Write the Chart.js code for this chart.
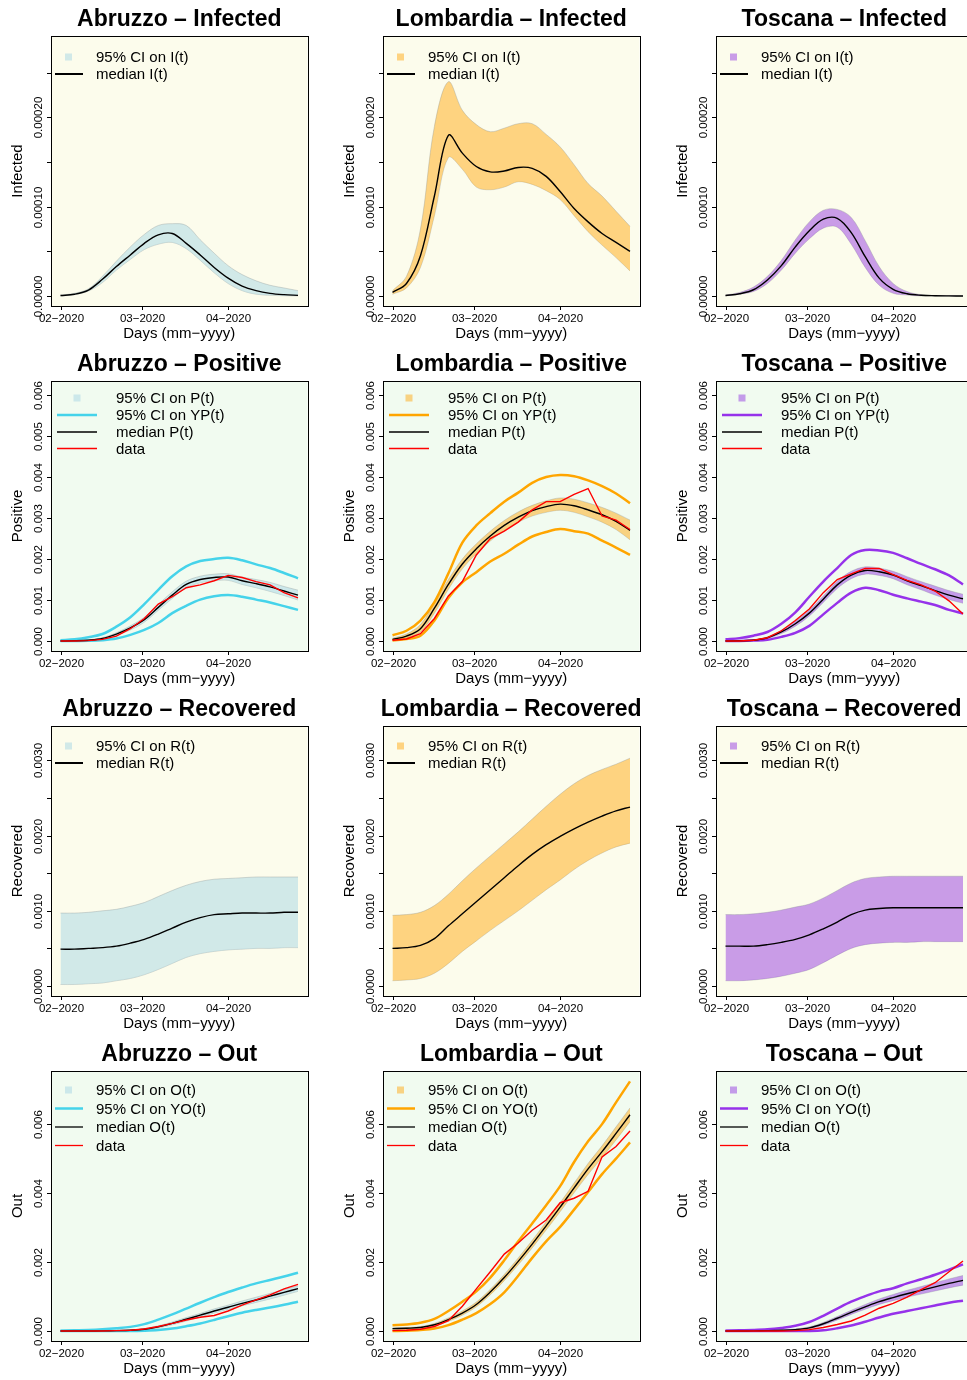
<!DOCTYPE html>
<html>
<head>
<meta charset="utf-8">
<script src="https://cdn.jsdelivr.net/npm/chart.js@4.4.1/dist/chart.umd.min.js"></script>
<style>
  html, body { margin: 0; padding: 0; background: #fff; overflow: hidden; }
  #grid { position: relative; width: 997px; height: 1380px; }
  #grid canvas { position: absolute; }
</style>
</head>
<body>
<div id="grid"></div>
<script>
// ---- time axis (days since 1 Feb 2020) ----
const DAYS = [0, 5, 10, 15, 20, 25, 30, 35, 40, 45, 50, 55, 60, 65, 70, 75, 80, 85];
const MONTH_TICKS = [0, 29, 60];
const MONTH_LABELS = ['02\u22122020', '03\u22122020', '04\u22122020'];

const REGIONS = ['Abruzzo', 'Lombardia', 'Toscana'];

// ---- y tick positions / labels per compartment ----
const INF_TICKS = [0, 0.00005, 0.0001, 0.00015, 0.0002, 0.00025];
const INF_TICK_LABELS = ['0.00000', '', '0.00010', '', '0.00020', ''];
const POS_TICKS = [0, 0.001, 0.002, 0.003, 0.004, 0.005, 0.006];
const POS_TICK_LABELS = ['0.000', '0.001', '0.002', '0.003', '0.004', '0.005', '0.006'];
const REC_TICKS = [0, 0.0005, 0.001, 0.0015, 0.002, 0.0025, 0.003];
const REC_TICK_LABELS = ['0.0000', '', '0.0010', '', '0.0020', '', '0.0030'];
const OUT_TICKS = [0, 0.002, 0.004, 0.006];
const OUT_TICK_LABELS = ['0.000', '0.002', '0.004', '0.006'];

const INF_LEGEND = ['95% CI on I(t)', 'median I(t)'];
const POS_LEGEND = ['95% CI on P(t)', '95% CI on YP(t)', 'median P(t)', 'data'];
const REC_LEGEND = ['95% CI on R(t)', 'median R(t)'];
const OUT_LEGEND = ['95% CI on O(t)', '95% CI on YO(t)', 'median O(t)', 'data'];

// ---- Abruzzo ----
const ABR_I_MED = [0.0000005, 0.000002, 0.0000067, 0.0000187, 0.000033, 0.000046, 0.000059, 0.0000685, 0.00007, 0.000059, 0.000046, 0.000032, 0.00002, 0.000011, 0.000006, 0.000003, 0.0000015, 0.0000007];
const ABR_I_HI = [0.000001, 0.000003, 0.000008, 0.000022, 0.000039, 0.000055, 0.000069, 0.000079, 0.000081, 0.000079, 0.000063, 0.000048, 0.000034, 0.000024, 0.000017, 0.000012, 0.000009, 0.000006];
const ABR_I_LO = [0, 0.0000015, 0.0000055, 0.000015, 0.000029, 0.000041, 0.000052, 0.000058, 0.00006, 0.000053, 0.00004, 0.000026, 0.000014, 0.000006, 0.000002, 0.0000008, 0.0000003, 0.0000001];

const ABR_P_MED = [0, 0.000005, 0.00002, 0.00006, 0.00017, 0.00032, 0.00052, 0.00082, 0.00112, 0.00138, 0.0015, 0.00155, 0.00156, 0.00147, 0.0014, 0.00132, 0.00122, 0.00112];
const ABR_P_HI = [0.00001, 0.00001, 0.00003, 0.00008, 0.0002, 0.00037, 0.00058, 0.00089, 0.0012, 0.00146, 0.00158, 0.00163, 0.00164, 0.00156, 0.0015, 0.00143, 0.00133, 0.00124];
const ABR_P_LO = [0, 0, 0.00001, 0.00004, 0.00014, 0.00027, 0.00046, 0.00075, 0.00104, 0.0013, 0.00142, 0.00147, 0.00148, 0.00138, 0.0013, 0.00121, 0.00111, 0.001];
const ABR_YP_HI = [0.00002, 0.00004, 0.00009, 0.00017, 0.00035, 0.00058, 0.0009, 0.00125, 0.00158, 0.00182, 0.00195, 0.002, 0.00203, 0.00197, 0.00187, 0.00178, 0.00166, 0.00153];
const ABR_YP_LO = [0, 0, 0.000005, 0.00002, 0.00006, 0.00015, 0.00027, 0.00044, 0.00068, 0.00086, 0.00101, 0.00109, 0.00112, 0.00108, 0.00101, 0.00094, 0.00085, 0.00076];
const ABR_P_DATA = [0, 0, 0.00001, 0.00004, 0.00012, 0.0003, 0.00055, 0.0009, 0.00108, 0.0013, 0.00137, 0.00147, 0.0016, 0.00155, 0.00145, 0.00137, 0.00118, 0.00105];

const ABR_R_MED = [0.00049, 0.00049, 0.0005, 0.00051, 0.00053, 0.00057, 0.00062, 0.00069, 0.00077, 0.00085, 0.00091, 0.00095, 0.00096, 0.00097, 0.00097, 0.00097, 0.00098, 0.00098];
const ABR_R_HI = [0.00097, 0.00097, 0.00098, 0.001, 0.00102, 0.00106, 0.00111, 0.00119, 0.00127, 0.00134, 0.00139, 0.00142, 0.00143, 0.00144, 0.00145, 0.00145, 0.00145, 0.00145];
const ABR_R_LO = [0.00002, 0.00002, 0.00003, 0.00004, 0.00007, 0.0001, 0.00015, 0.00022, 0.0003, 0.00038, 0.00043, 0.00046, 0.00048, 0.00049, 0.0005, 0.0005, 0.00051, 0.00051];

const ABR_O_MED = [0, 0, 0, 0.000005, 0.00001, 0.00002, 0.00005, 0.00012, 0.00022, 0.00034, 0.00046, 0.00058, 0.00069, 0.0008, 0.0009, 0.00101, 0.00112, 0.00123];
const ABR_O_HI = [0, 0, 0.000005, 0.00001, 0.00002, 0.00003, 0.00007, 0.00015, 0.00026, 0.00039, 0.00051, 0.00064, 0.00075, 0.00087, 0.00098, 0.00109, 0.0012, 0.00131];
const ABR_O_LO = [0, 0, 0, 0, 0.000005, 0.00001, 0.00003, 0.00009, 0.00018, 0.00029, 0.00041, 0.00052, 0.00063, 0.00073, 0.00083, 0.00093, 0.00104, 0.00115];
const ABR_YO_HI = [0.00001, 0.00002, 0.00003, 0.00005, 0.00008, 0.00012, 0.0002, 0.00033, 0.00048, 0.00065, 0.00082, 0.00098, 0.00113, 0.00126, 0.00138, 0.00148, 0.00158, 0.00169];
const ABR_YO_LO = [0, 0, 0, 0, 0, 0, 0.00001, 0.00003, 0.00007, 0.00014, 0.00022, 0.00032, 0.00043, 0.00053, 0.00061, 0.00068, 0.00076, 0.00085];
const ABR_O_DATA = [0, 0, 0, 0, 0.00001, 0.00002, 0.00006, 0.00013, 0.00022, 0.00032, 0.0004, 0.00045, 0.00058, 0.00075, 0.0009, 0.00105, 0.00122, 0.00135];

// ---- Lombardia ----
const LOM_I_MED = [0.000004, 0.000014, 0.000045, 0.000112, 0.00018, 0.00016, 0.000145, 0.000139, 0.00014, 0.000144, 0.000143, 0.000134, 0.000117, 0.000098, 0.000083, 0.00007, 0.00006, 0.00005];
const LOM_I_HI = [0.000006, 0.000022, 0.000075, 0.00019, 0.00024, 0.000208, 0.000192, 0.000184, 0.000188, 0.000193, 0.000193, 0.000181, 0.000167, 0.000147, 0.000126, 0.000112, 0.000095, 0.000078];
const LOM_I_LO = [0.000002, 0.000009, 0.000032, 0.00009, 0.000155, 0.000142, 0.000122, 0.000119, 0.000122, 0.000128, 0.000125, 0.000118, 0.000108, 0.00009, 0.000072, 0.000057, 0.000043, 0.000028];

const LOM_P_MED = [0.00004, 0.00012, 0.0003, 0.0008, 0.00138, 0.00188, 0.00225, 0.00256, 0.00282, 0.00302, 0.00318, 0.00328, 0.00334, 0.0033, 0.0032, 0.00308, 0.00292, 0.0027];
const LOM_P_HI = [0.00007, 0.00017, 0.0004, 0.00092, 0.0015, 0.002, 0.00237, 0.00268, 0.00294, 0.00315, 0.00331, 0.00342, 0.00349, 0.00346, 0.00337, 0.00326, 0.00312, 0.00295];
const LOM_P_LO = [0.00002, 0.00008, 0.00022, 0.00068, 0.00126, 0.00176, 0.00213, 0.00244, 0.0027, 0.0029, 0.00305, 0.00314, 0.00319, 0.00314, 0.00303, 0.0029, 0.00272, 0.00247];
const LOM_YP_HI = [0.00014, 0.00025, 0.0005, 0.00095, 0.00165, 0.0024, 0.00282, 0.00312, 0.0034, 0.00362, 0.00386, 0.004, 0.00405, 0.00402, 0.00392, 0.00378, 0.0036, 0.00336];
const LOM_YP_LO = [0.00001, 0.00005, 0.00013, 0.0005, 0.00105, 0.00143, 0.00168, 0.00194, 0.00213, 0.00235, 0.00255, 0.00266, 0.00273, 0.00268, 0.00262, 0.00245, 0.00228, 0.0021];
const LOM_P_DATA = [0.00002, 0.00005, 0.00018, 0.00055, 0.0011, 0.00145, 0.0021, 0.0025, 0.00268, 0.0029, 0.0032, 0.0034, 0.0034, 0.00358, 0.00372, 0.00305, 0.00295, 0.00272];

const LOM_R_MED = [0.0005, 0.00051, 0.00054, 0.00063, 0.0008, 0.00096, 0.00112, 0.00128, 0.00144, 0.0016, 0.00175, 0.00188, 0.00199, 0.00209, 0.00218, 0.00226, 0.00233, 0.00238];
const LOM_R_HI = [0.00094, 0.00095, 0.00098, 0.00107, 0.00122, 0.0014, 0.00157, 0.00173, 0.00189, 0.00205, 0.00222, 0.00239, 0.00255, 0.00269, 0.0028, 0.00288, 0.00295, 0.00303];
const LOM_R_LO = [0.00007, 0.00008, 0.0001, 0.00017, 0.0003, 0.00046, 0.0006, 0.00074, 0.00087, 0.001, 0.00114, 0.00128, 0.00141, 0.00155, 0.00167, 0.00177, 0.00185, 0.0019];

const LOM_O_MED = [0.00007, 0.00008, 0.0001, 0.00018, 0.00033, 0.00052, 0.00077, 0.00113, 0.00155, 0.00202, 0.00252, 0.00305, 0.00359, 0.00415, 0.0047, 0.0052, 0.00573, 0.00627];
const LOM_O_HI = [0.00009, 0.0001, 0.00013, 0.00022, 0.00038, 0.00058, 0.00084, 0.00121, 0.00164, 0.00212, 0.00263, 0.00317, 0.00372, 0.00429, 0.00486, 0.00537, 0.00592, 0.00647];
const LOM_O_LO = [0.00005, 0.00006, 0.00008, 0.00015, 0.00028, 0.00046, 0.0007, 0.00105, 0.00146, 0.00192, 0.00241, 0.00293, 0.00346, 0.00401, 0.00454, 0.00503, 0.00554, 0.00607];
const LOM_YO_HI = [0.00017, 0.00019, 0.00024, 0.00035, 0.00058, 0.00085, 0.00115, 0.00155, 0.00205, 0.0026, 0.00312, 0.00365, 0.0042, 0.0049, 0.0055, 0.006, 0.00663, 0.00724];
const LOM_YO_LO = [0, 0.00001, 0.00003, 0.00007, 0.00017, 0.00033, 0.00052, 0.00078, 0.00112, 0.0016, 0.00212, 0.0026, 0.00302, 0.00352, 0.00403, 0.00455, 0.005, 0.00547];
const LOM_O_DATA = [0.00001, 0.00002, 0.00005, 0.00013, 0.0003, 0.00072, 0.00122, 0.00172, 0.00223, 0.00255, 0.00292, 0.00322, 0.00372, 0.00385, 0.00405, 0.00505, 0.00535, 0.0058];

// ---- Toscana ----
const TOS_I_MED = [0.0000005, 0.0000025, 0.000007, 0.000018, 0.000034, 0.000055, 0.000073, 0.000086, 0.000087, 0.000071, 0.000044, 0.00002, 0.0000075, 0.0000025, 0.0000008, 0.0000003, 0.0000001, 0];
const TOS_I_HI = [0.000001, 0.000004, 0.00001, 0.000022, 0.00004, 0.000063, 0.000083, 0.000096, 0.000097, 0.000088, 0.000062, 0.000033, 0.000014, 0.000005, 0.0000015, 0.0000005, 0.0000002, 0];
const TOS_I_LO = [0, 0.000002, 0.000005, 0.000014, 0.000029, 0.000048, 0.000064, 0.000076, 0.000077, 0.000058, 0.000032, 0.000012, 0.000003, 0.000001, 0, 0, 0, 0];

const TOS_P_MED = [0, 0.000005, 0.00002, 0.00008, 0.00022, 0.00042, 0.00068, 0.00102, 0.00137, 0.00161, 0.00172, 0.00169, 0.00161, 0.00147, 0.00135, 0.00123, 0.00112, 0.00103];
const TOS_P_HI = [0.00001, 0.00001, 0.00003, 0.0001, 0.00026, 0.00048, 0.00075, 0.0011, 0.00146, 0.0017, 0.00181, 0.00178, 0.0017, 0.00157, 0.00145, 0.00134, 0.00123, 0.00114];
const TOS_P_LO = [0, 0, 0.00001, 0.00006, 0.00018, 0.00036, 0.00061, 0.00094, 0.00128, 0.00152, 0.00163, 0.0016, 0.00152, 0.00137, 0.00125, 0.00112, 0.00101, 0.00092];
const TOS_YP_HI = [0.00004, 0.00007, 0.00013, 0.00022, 0.00042, 0.0007, 0.00108, 0.00145, 0.00178, 0.0021, 0.00222, 0.00221, 0.00215, 0.00202, 0.00188, 0.00175, 0.0016, 0.00138];
const TOS_YP_LO = [0, 0, 0.00001, 0.00003, 0.0001, 0.0002, 0.00037, 0.00065, 0.00093, 0.00118, 0.0013, 0.00124, 0.00113, 0.00104, 0.00096, 0.00088, 0.00076, 0.00067];
const TOS_P_DATA = [0, 0, 0.00002, 0.00008, 0.00025, 0.0005, 0.00078, 0.00118, 0.0015, 0.00164, 0.00177, 0.00177, 0.00162, 0.00148, 0.00137, 0.00122, 0.00098, 0.00066];

const TOS_R_MED = [0.00053, 0.00053, 0.00053, 0.00055, 0.00058, 0.00062, 0.00068, 0.00076, 0.00085, 0.00095, 0.00101, 0.00103, 0.00104, 0.00104, 0.00104, 0.00104, 0.00104, 0.00104];
const TOS_R_HI = [0.00095, 0.00095, 0.00096, 0.00098, 0.00101, 0.00105, 0.00109, 0.00117, 0.00127, 0.00137, 0.00143, 0.00145, 0.00146, 0.00146, 0.00146, 0.00146, 0.00146, 0.00146];
const TOS_R_LO = [0.00007, 0.00007, 0.00008, 0.0001, 0.00013, 0.00017, 0.00022, 0.00031, 0.00041, 0.0005, 0.00055, 0.00057, 0.00058, 0.00058, 0.00059, 0.00059, 0.00059, 0.00059];

const TOS_O_MED = [0, 0, 0.000005, 0.00001, 0.00002, 0.00004, 0.00009, 0.00021, 0.00037, 0.00054, 0.0007, 0.00085, 0.00097, 0.00108, 0.00118, 0.00128, 0.00138, 0.00147];
const TOS_O_HI = [0, 0, 0.00001, 0.00002, 0.00003, 0.00006, 0.00012, 0.00025, 0.00042, 0.0006, 0.00077, 0.00093, 0.00106, 0.00118, 0.00129, 0.0014, 0.00151, 0.00161];
const TOS_O_LO = [0, 0, 0, 0.000005, 0.00001, 0.00003, 0.00007, 0.00017, 0.00032, 0.00048, 0.00063, 0.00077, 0.00088, 0.00098, 0.00107, 0.00116, 0.00125, 0.00133];
const TOS_YO_HI = [0.00001, 0.00002, 0.00003, 0.00005, 0.00009, 0.00015, 0.00026, 0.00044, 0.00065, 0.00085, 0.00101, 0.00115, 0.00124, 0.00138, 0.0015, 0.00163, 0.00178, 0.00193];
const TOS_YO_LO = [0, 0, 0, 0, 0, 0, 0, 0.00002, 0.00008, 0.00016, 0.00027, 0.00039, 0.0005, 0.00058, 0.00066, 0.00074, 0.00082, 0.00088];
const TOS_O_DATA = [0, 0, 0, 0, 0, 0.00001, 0.00004, 0.0001, 0.00019, 0.00029, 0.00046, 0.00066, 0.0008, 0.00098, 0.0012, 0.0014, 0.00172, 0.00203];

// ---- look ----
const BG_YELLOW = '#FCFCEC';
const BG_GREEN = '#F1FBF0';
const BAND_COLORS = ['rgba(173,216,230,0.55)', 'rgba(255,170,20,0.5)', 'rgba(150,60,225,0.5)'];
const BAND_EDGE = 'rgba(140,150,150,0.35)';
const CI_LINE_COLORS = ['#45D3EA', '#FFA500', '#9632EA'];
const FONT = '"Liberation Sans", Arial, Helvetica, sans-serif';

const COL_LEFT = [0, 332, 665];
const ROW_TOP = [0, 345, 690, 1035];
const CELL_W = 332, CELL_H = 345;

const ROWS = [
    { key: 'I', name: 'Infected', bg: BG_YELLOW, yMin: -0.0000112, yMax: 0.0002912, ticks: INF_TICKS, tickLabels: INF_TICK_LABELS, legend: INF_LEGEND, legendRows: [21, 38], wide: false,
      series: [
        { med: ABR_I_MED, lo: ABR_I_LO, hi: ABR_I_HI },
        { med: LOM_I_MED, lo: LOM_I_LO, hi: LOM_I_HI },
        { med: TOS_I_MED, lo: TOS_I_LO, hi: TOS_I_HI }] },
    { key: 'P', name: 'Positive', bg: BG_GREEN, yMin: -0.000244, yMax: 0.006344, ticks: POS_TICKS, tickLabels: POS_TICK_LABELS, legend: POS_LEGEND, legendRows: [17, 34, 51, 67.5], wide: true,
      series: [
        { med: ABR_P_MED, lo: ABR_P_LO, hi: ABR_P_HI, ylo: ABR_YP_LO, yhi: ABR_YP_HI, data: ABR_P_DATA },
        { med: LOM_P_MED, lo: LOM_P_LO, hi: LOM_P_HI, ylo: LOM_YP_LO, yhi: LOM_YP_HI, data: LOM_P_DATA },
        { med: TOS_P_MED, lo: TOS_P_LO, hi: TOS_P_HI, ylo: TOS_YP_LO, yhi: TOS_YP_HI, data: TOS_P_DATA }] },
    { key: 'R', name: 'Recovered', bg: BG_YELLOW, yMin: -0.000133, yMax: 0.003458, ticks: REC_TICKS, tickLabels: REC_TICK_LABELS, legend: REC_LEGEND, legendRows: [20, 37], wide: false,
      series: [
        { med: ABR_R_MED, lo: ABR_R_LO, hi: ABR_R_HI },
        { med: LOM_R_MED, lo: LOM_R_LO, hi: LOM_R_HI },
        { med: TOS_R_MED, lo: TOS_R_LO, hi: TOS_R_HI }] },
    { key: 'O', name: 'Out', bg: BG_GREEN, yMin: -0.00029, yMax: 0.00754, ticks: OUT_TICKS, tickLabels: OUT_TICK_LABELS, legend: OUT_LEGEND, legendRows: [19, 37.5, 56, 74.5], wide: false,
      series: [
        { med: ABR_O_MED, lo: ABR_O_LO, hi: ABR_O_HI, ylo: ABR_YO_LO, yhi: ABR_YO_HI, data: ABR_O_DATA },
        { med: LOM_O_MED, lo: LOM_O_LO, hi: LOM_O_HI, ylo: LOM_YO_LO, yhi: LOM_YO_HI, data: LOM_O_DATA },
        { med: TOS_O_MED, lo: TOS_O_LO, hi: TOS_O_HI, ylo: TOS_YO_LO, yhi: TOS_YO_HI, data: TOS_O_DATA }] }
];

function toPoints(values) {
    return DAYS.map((d, i) => ({ x: d, y: values[i] }));
}

// model curves are smooth, observed data drawn as straight segments
function lineSet(values, color, width, smooth) {
    return {
        data: toPoints(values),
        borderColor: color,
        borderWidth: width,
        pointRadius: 0,
        fill: false,
        tension: smooth ? 0.35 : 0
    };
}

// Axes, box, titles and legend drawn in R style around the chart area
function panelDecor(row, region, col) {
    return {
        id: 'panelDecor',
        beforeDraw(chart) {
            const { ctx, chartArea: a } = chart;
            ctx.save();
            ctx.fillStyle = row.bg;
            ctx.fillRect(a.left, a.top, a.right - a.left, a.bottom - a.top);
            ctx.restore();
        },
        afterDraw(chart) {
            const { ctx, chartArea: a, scales: { x, y } } = chart;
            ctx.save();
            ctx.strokeStyle = '#000';
            ctx.fillStyle = '#000';
            ctx.lineWidth = 1;
            ctx.strokeRect(Math.round(a.left) + 0.5, Math.round(a.top) + 0.5, Math.round(a.right - a.left), Math.round(a.bottom - a.top));

            // x ticks
            ctx.font = '11.5px ' + FONT;
            ctx.textAlign = 'center';
            ctx.textBaseline = 'middle';
            MONTH_TICKS.forEach((d, i) => {
                const px = Math.round(x.getPixelForValue(d)) + 0.5;
                ctx.beginPath();
                ctx.moveTo(px, a.bottom);
                ctx.lineTo(px, a.bottom + 4);
                ctx.stroke();
                ctx.fillText(MONTH_LABELS[i], px, a.bottom + 13);
            });

            // y ticks, labels parallel to the axis
            row.ticks.forEach((v, i) => {
                const py = Math.round(y.getPixelForValue(v)) + 0.5;
                ctx.beginPath();
                ctx.moveTo(a.left - 4, py);
                ctx.lineTo(a.left, py);
                ctx.stroke();
                if (row.tickLabels[i]) {
                    ctx.save();
                    ctx.translate(a.left - 12.5, py);
                    ctx.rotate(-Math.PI / 2);
                    ctx.fillText(row.tickLabels[i], 0, 0);
                    ctx.restore();
                }
            });

            // axis titles
            ctx.font = '15px ' + FONT;
            ctx.fillText('Days (mm\u2212yyyy)', (a.left + a.right) / 2, a.bottom + 28);
            ctx.save();
            ctx.translate(a.left - 33, (a.top + a.bottom) / 2);
            ctx.rotate(-Math.PI / 2);
            ctx.fillText(row.name, 0, 0);
            ctx.restore();

            // main title
            ctx.font = 'bold 23px ' + FONT;
            ctx.textBaseline = 'alphabetic';
            ctx.fillText(region + ' \u2013 ' + row.name, (a.left + a.right) / 2, a.top - 10);

            // legend
            const sqX = a.left + (row.wide ? 26 : 17.5);
            const l0 = a.left + (row.wide ? 6 : 4);
            const l1 = a.left + (row.wide ? 46 : 32);
            const tx = a.left + (row.wide ? 65 : 45);
            const kinds = row.legend.length === 2
                ? [{ sq: true }, { c: '#000', w: 2 }]
                : [{ sq: true }, { c: CI_LINE_COLORS[col], w: 2.5 }, { c: '#000', w: 1.3 }, { c: '#FF0000', w: 1.3 }];
            ctx.font = '15px ' + FONT;
            ctx.textAlign = 'left';
            ctx.textBaseline = 'middle';
            row.legend.forEach((label, i) => {
                const ly = a.top + row.legendRows[i];
                const k = kinds[i];
                if (k.sq) {
                    ctx.fillStyle = BAND_COLORS[col];
                    ctx.fillRect(sqX - 3.5, ly - 3.5, 7, 7);
                } else {
                    ctx.strokeStyle = k.c;
                    ctx.lineWidth = k.w;
                    ctx.beginPath();
                    ctx.moveTo(l0, ly);
                    ctx.lineTo(l1, ly);
                    ctx.stroke();
                }
                ctx.fillStyle = '#000';
                ctx.fillText(label, tx, ly + 1);
            });
            ctx.restore();
        }
    };
}

const grid = document.getElementById('grid');

ROWS.forEach((row, r) => {
    REGIONS.forEach((region, c) => {
        const canvas = document.createElement('canvas');
        canvas.width = CELL_W;
        canvas.height = CELL_H;
        canvas.style.left = COL_LEFT[c] + 'px';
        canvas.style.top = ROW_TOP[r] + 'px';
        canvas.style.width = CELL_W + 'px';
        canvas.style.height = CELL_H + 'px';
        grid.appendChild(canvas);

        const s = row.series[c];
        const datasets = [];
        if (s.data) datasets.push(lineSet(s.data, '#FF0000', 1.4, false));
        datasets.push(lineSet(s.med, '#000000', 1.4, true));
        if (s.yhi) {
            datasets.push(lineSet(s.yhi, CI_LINE_COLORS[c], 2.5, true));
            datasets.push(lineSet(s.ylo, CI_LINE_COLORS[c], 2.5, true));
        }
        const upper = lineSet(s.hi, BAND_EDGE, 1, true);
        upper.fill = '+1';
        upper.backgroundColor = BAND_COLORS[c];
        datasets.push(upper);
        datasets.push(lineSet(s.lo, BAND_EDGE, 1, true));

        new Chart(canvas.getContext('2d'), {
            type: 'line',
            data: { datasets },
            options: {
                responsive: false,
                animation: false,
                devicePixelRatio: 1,
                events: [],
                layout: { padding: { left: 51, right: 24.5, top: 36, bottom: 39 } },
                scales: {
                    x: { type: 'linear', min: -3.4, max: 88.4, display: false },
                    y: { type: 'linear', min: row.yMin, max: row.yMax, display: false }
                },
                plugins: { legend: { display: false }, tooltip: { enabled: false }, title: { display: false } }
            },
            plugins: [panelDecor(row, region, c)]
        });
    });
});
</script>
</body>
</html>
